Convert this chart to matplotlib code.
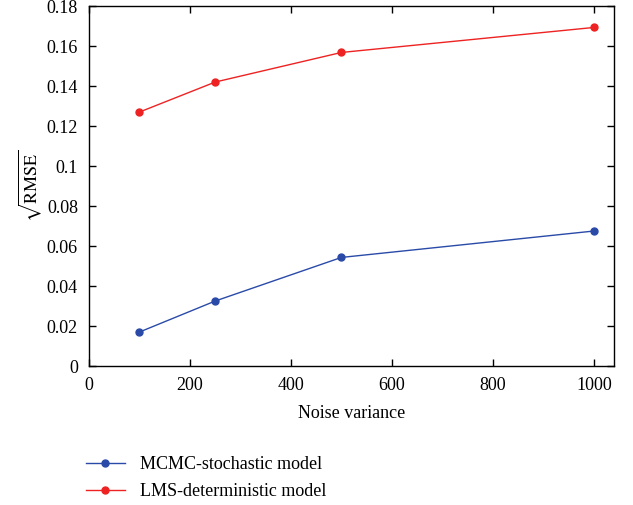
import matplotlib
matplotlib.use("Agg")
import matplotlib.pyplot as plt

noise_variance = [100, 250, 500, 1000]
mcmc_rmse = [0.017, 0.0325, 0.0543, 0.0675]
lms_rmse = [0.127, 0.142, 0.1568, 0.1693]

plt.rcParams['font.family'] = ['Liberation Serif', 'DejaVu Serif']
plt.rcParams['mathtext.fontset'] = 'stix'

fig = plt.figure(figsize=(6.33, 5.05), dpi=100)
ax = fig.add_axes([0.1406, 0.2752, 0.8294, 0.7128])

l1, = ax.plot(noise_variance, mcmc_rmse, color='#2a4aa8', marker='o', markersize=5, lw=1.0,
              label='MCMC-stochastic model')
l2, = ax.plot(noise_variance, lms_rmse, color='#ee2222', marker='o', markersize=5, lw=1.0,
              label='LMS-deterministic model')

ax.set_xlim(0, 1040)
ax.set_ylim(0, 0.18)
ax.set_xticks([0, 200, 400, 600, 800, 1000])
ax.set_yticks([0, 0.02, 0.04, 0.06, 0.08, 0.1, 0.12, 0.14, 0.16, 0.18])
ax.set_yticklabels(['0', '0.02', '0.04', '0.06', '0.08', '0.1', '0.12', '0.14', '0.16', '0.18'])
ax.tick_params(direction='in', top=True, right=True, labelsize=13, length=5, width=1, pad=8)
for s in ax.spines.values():
    s.set_linewidth(1.0)
ax.set_xlabel('Noise variance', fontsize=13, labelpad=8)
ax.set_ylabel(r'$\sqrt{\mathrm{RMSE}}$', fontsize=13, labelpad=2)

fig.legend(handles=[l1, l2], loc='upper left', bbox_to_anchor=(0.121, 0.115), frameon=False,
           fontsize=13, handlelength=2.2, labelspacing=0.55, handletextpad=0.8, borderpad=0)

fig.savefig('out.png', dpi=100)
